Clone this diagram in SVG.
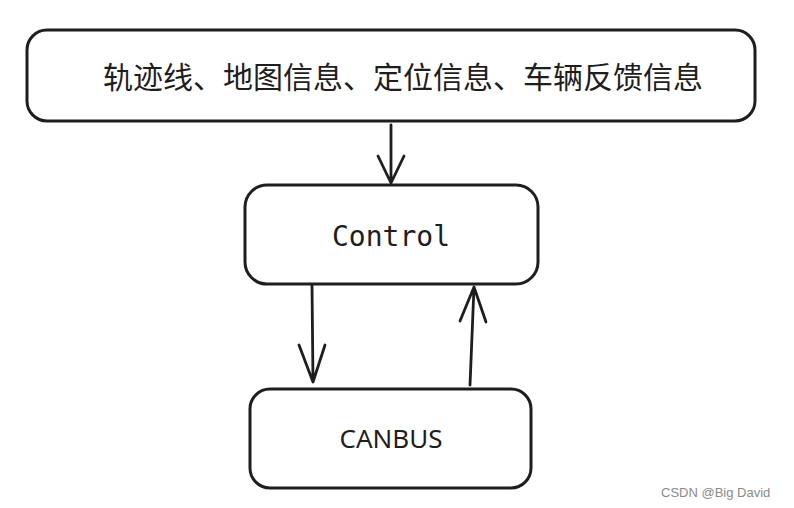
<svg xmlns="http://www.w3.org/2000/svg" width="794" height="508" viewBox="0 0 794 508">
<defs>
<style>
.box{fill:#fff;stroke:#1e1e1e;stroke-width:3;stroke-linejoin:round}
.edge{fill:none;stroke:#1e1e1e;stroke-width:2.8;stroke-linecap:round;stroke-linejoin:round}
.t{fill:#1e1e1e;text-anchor:middle;dominant-baseline:central}
</style>
</defs>
<rect width="794" height="508" fill="#fff"/>
<g id="node-input">
<rect class="box" x="27" y="30" width="728" height="91" rx="20"/>
<text class="t" x="403" y="75" font-family="'Noto Sans CJK SC', sans-serif" font-size="30">轨迹线、地图信息、定位信息、车辆反馈信息</text>
</g>
<g id="node-control">
<rect class="box" x="245" y="185" width="293" height="99" rx="22"/>
<text class="t" x="391" y="236" font-family="'DejaVu Sans Mono', monospace" font-size="28">Control</text>
</g>
<g id="node-canbus">
<rect class="box" x="250" y="389" width="281" height="99" rx="20"/>
<text class="t" x="391" y="438" font-family="'Noto Sans', sans-serif" font-size="26">CANBUS</text>
</g>
<g id="connectors">
<path class="edge" d="M391 125 L391 183 M378 156 L391 183 L404 156"/>
<path class="edge" d="M312 285 L313 382 M299 345 L313 382 L325 345"/>
<path class="edge" d="M470 385 L474 287 M460 321 L474 287 L486 322"/>
</g>
<text x="661" y="497" font-family="'Liberation Sans', Arial, sans-serif" font-size="13" fill="#8a8a8a">CSDN @Big David</text>
</svg>
